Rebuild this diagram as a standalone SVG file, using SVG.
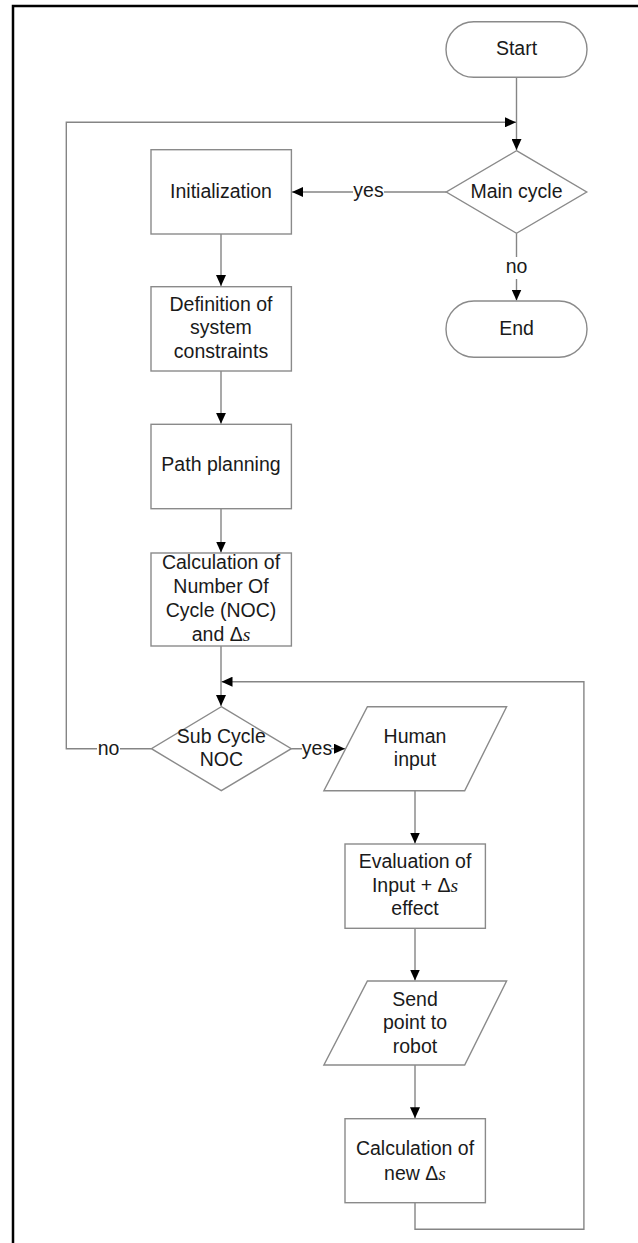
<svg xmlns="http://www.w3.org/2000/svg" width="638" height="1243" viewBox="0 0 638 1243">
<style>
.node{fill:#fff;stroke:#8a8a8a;stroke-width:1.4}
.edge{fill:none;stroke:#858585;stroke-width:1.4}
text{font-family:"Liberation Sans",Arial,sans-serif;font-size:19.5px;fill:#1a1a1a;text-anchor:middle}
.s{font-family:"Liberation Serif","Times New Roman",serif;font-style:italic}
.bg{fill:#fff;stroke:none}
</style>
<defs>
<marker id="ah" markerUnits="userSpaceOnUse" markerWidth="12" markerHeight="10" refX="11" refY="5" orient="auto">
<path d="M0,0 L11,5 L0,10 Z" fill="#000"/>
</marker>
</defs>
<rect x="0" y="0" width="638" height="1243" fill="#fff"/>
<path d="M13,1243 V6 H638" fill="none" stroke="#000" stroke-width="2.5"/>

<g id="connectors">
<path class="edge" d="M516.5,77.3 V150" marker-end="url(#ah)"/>
<path class="edge" d="M446.3,192 H292" marker-end="url(#ah)"/>
<path class="edge" d="M516.5,233.3 V300.5" marker-end="url(#ah)"/>
<path class="edge" d="M221,234 V286" marker-end="url(#ah)"/>
<path class="edge" d="M221,371 V423.8" marker-end="url(#ah)"/>
<path class="edge" d="M221,508.7 V552.5" marker-end="url(#ah)"/>
<path class="edge" d="M221,646 V706" marker-end="url(#ah)"/>
<path class="edge" d="M151.4,748.7 H66.3 V122.3 H516" marker-end="url(#ah)"/>
<path class="edge" d="M291.3,748.7 H345" marker-end="url(#ah)"/>
<path class="edge" d="M415,790.7 V843.5" marker-end="url(#ah)"/>
<path class="edge" d="M415,928.3 V980.5" marker-end="url(#ah)"/>
<path class="edge" d="M415,1065 V1118.2" marker-end="url(#ah)"/>
<path class="edge" d="M415,1202.7 V1229.3 H583.9 V681.7 H221.5" marker-end="url(#ah)"/>
<g id="edge-labels">
<rect class="bg" x="353" y="182" width="31" height="22"/>
<text x="368.5" y="197">yes</text>
<rect class="bg" x="505" y="257" width="23" height="22"/>
<text x="516.5" y="272.5">no</text>
<rect class="bg" x="97" y="739" width="23" height="22"/>
<text x="108.5" y="754.5">no</text>
<rect class="bg" x="302" y="739" width="29" height="22"/>
<text x="317" y="754.5">yes</text>
</g>
</g>

<g id="start">
<rect class="node" x="446" y="21.7" width="141" height="55.6" rx="27.8"/>
<text x="516.5" y="54.5">Start</text>
</g>
<g id="main-cycle">
<polygon class="node" points="516.5,150.7 586.7,192 516.5,233.3 446.3,192"/>
<text x="516.5" y="198">Main cycle</text>
</g>
<g id="end">
<rect class="node" x="446" y="301" width="141" height="56.3" rx="28"/>
<text x="516.5" y="334.5">End</text>
</g>
<g id="initialization">
<rect class="node" x="151" y="149.7" width="140.4" height="84.3"/>
<text x="221" y="198">Initialization</text>
</g>
<g id="definition">
<rect class="node" x="151" y="286.7" width="140.4" height="84.3"/>
<text x="221" y="310.5">Definition of</text>
<text x="221" y="334">system</text>
<text x="221" y="357.5">constraints</text>
</g>
<g id="path-planning">
<rect class="node" x="151" y="424.3" width="140.4" height="84.4"/>
<text x="221" y="471">Path planning</text>
</g>
<g id="calc-noc">
<rect class="node" x="151" y="553" width="140.4" height="93"/>
<text x="221" y="569">Calculation of</text>
<text x="221" y="593">Number Of</text>
<text x="221" y="617">Cycle (NOC)</text>
<text x="221" y="640.5">and Δ<tspan class="s">s</tspan></text>
</g>
<g id="sub-cycle">
<polygon class="node" points="221.3,706.7 291.3,748.7 221.3,790.7 151.4,748.7"/>
<text x="221.3" y="742.5">Sub Cycle</text>
<text x="221.3" y="765.5">NOC</text>
</g>
<g id="human-input">
<polygon class="node" points="367.4,706.7 506.6,706.7 464.7,790.7 323.9,790.7"/>
<text x="415" y="742.5">Human</text>
<text x="415" y="765.5">input</text>
</g>
<g id="evaluation">
<rect class="node" x="345" y="844" width="140.4" height="84.3"/>
<text x="415" y="868">Evaluation of</text>
<text x="415" y="891.5">Input + Δ<tspan class="s">s</tspan></text>
<text x="415" y="914.5">effect</text>
</g>
<g id="send-point">
<polygon class="node" points="367.4,981 506.6,981 464.7,1065 323.9,1065"/>
<text x="415" y="1005.5">Send</text>
<text x="415" y="1029">point to</text>
<text x="415" y="1052.5">robot</text>
</g>
<g id="calc-new">
<rect class="node" x="345" y="1118.7" width="140.4" height="84"/>
<text x="415" y="1154.5">Calculation of</text>
<text x="415" y="1179.5">new Δ<tspan class="s">s</tspan></text>
</g>
</svg>
